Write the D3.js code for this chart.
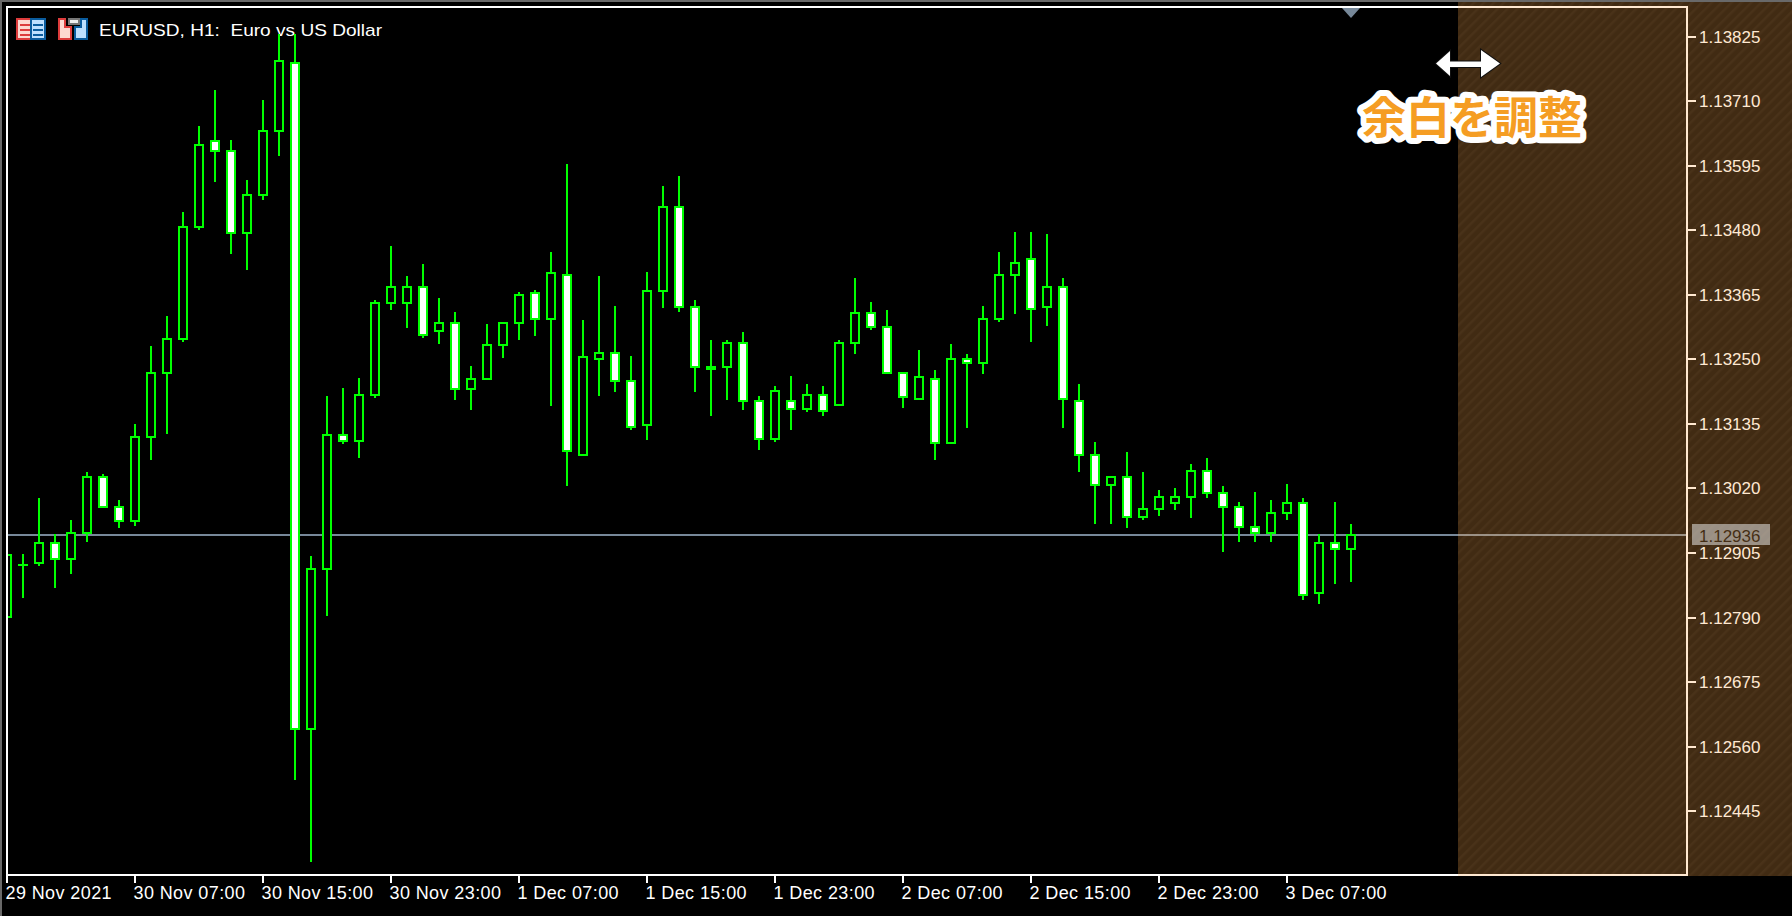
<!DOCTYPE html>
<html>
<head>
<meta charset="utf-8">
<style>
html,body{margin:0;padding:0;background:#000;overflow:hidden}
svg{display:block}
text{font-family:"Liberation Sans",sans-serif;font-size:17px;fill:#fff}
</style>
<script src="https://cdn.jsdelivr.net/npm/d3@7/dist/d3.min.js"></script>
</head>
<body>
<svg id="chart" width="1792" height="916"></svg>
<script>
const titleText = "EURUSD, H1:  Euro vs US Dollar";
const marginLabel = "余白を調整";
const bid = 1.12936;
const opens = [1.12789,1.12882,1.12885,1.12925,1.12893,1.12939,1.13042,1.12989,1.12960,1.13110,
1.13224,1.13285,1.13484,1.13641,1.13624,1.13474,1.13542,1.13656,1.13780,1.12589,
1.12875,1.13117,1.13103,1.13185,1.13349,1.13349,1.13381,1.13299,1.13317,1.13196,
1.13213,1.13274,1.13313,1.13370,1.13320,1.13402,1.13078,1.13249,1.13263,1.13213,
1.13131,1.13370,1.13524,1.13345,1.13238,1.13235,1.13281,1.13178,1.13106,1.13178,
1.13160,1.13188,1.13167,1.13278,1.13335,1.13310,1.13228,1.13178,1.13217,1.13099,
1.13253,1.13242,1.13320,1.13399,1.13431,1.13342,1.13381,1.13178,1.13082,1.13024,
1.13042,1.12967,1.12982,1.12992,1.13003,1.13053,1.13014,1.12989,1.12953,1.12939,
1.12975,1.12996,1.12832,1.12925,1.12910];
const highs = [1.12903,1.12903,1.13003,1.12939,1.12964,1.13049,1.13046,1.13000,1.13135,1.13274,
1.13328,1.13513,1.13666,1.13730,1.13641,1.13570,1.13713,1.13830,1.13830,1.12900,
1.13185,1.13199,1.13217,1.13356,1.13452,1.13399,1.13420,1.13360,1.13335,1.13238,
1.13313,1.13317,1.13370,1.13374,1.13442,1.13599,1.13320,1.13399,1.13345,1.13256,
1.13406,1.13559,1.13577,1.13356,1.13285,1.13285,1.13299,1.13185,1.13203,1.13221,
1.13206,1.13203,1.13285,1.13395,1.13353,1.13338,1.13228,1.13267,1.13231,1.13278,
1.13260,1.13345,1.13442,1.13477,1.13477,1.13474,1.13395,1.13206,1.13103,1.13042,
1.13085,1.13049,1.13017,1.13021,1.13064,1.13074,1.13024,1.12996,1.13014,1.13000,
1.13028,1.13003,1.12939,1.12996,1.12957];
const lows = [1.12789,1.12825,1.12882,1.12843,1.12868,1.12925,1.12985,1.12950,1.12953,1.13071,
1.13117,1.13281,1.13481,1.13566,1.13438,1.13410,1.13534,1.13613,1.12500,1.12354,
1.12793,1.13099,1.13074,1.13181,1.13338,1.13306,1.13288,1.13278,1.13178,1.13160,
1.13213,1.13253,1.13285,1.13292,1.13167,1.13024,1.13078,1.13185,1.13192,1.13124,
1.13106,1.13342,1.13335,1.13192,1.13149,1.13178,1.13160,1.13089,1.13103,1.13124,
1.13156,1.13149,1.13167,1.13260,1.13303,1.13224,1.13164,1.13178,1.13071,1.13099,
1.13128,1.13224,1.13317,1.13331,1.13281,1.13310,1.13128,1.13049,1.12957,1.12957,
1.12950,1.12964,1.12971,1.12982,1.12967,1.13003,1.12907,1.12925,1.12925,1.12925,
1.12964,1.12821,1.12814,1.12850,1.12853];
const closes = [1.12903,1.12885,1.12925,1.12893,1.12942,1.13042,1.12985,1.12960,1.13114,1.13228,
1.13288,1.13488,1.13634,1.13620,1.13474,1.13545,1.13659,1.13784,1.12589,1.12878,
1.13117,1.13103,1.13188,1.13353,1.13381,1.13381,1.13292,1.13317,1.13196,1.13217,
1.13278,1.13317,1.13367,1.13320,1.13406,1.13085,1.13256,1.13263,1.13210,1.13128,
1.13374,1.13524,1.13342,1.13235,1.13231,1.13281,1.13174,1.13106,1.13196,1.13160,
1.13188,1.13156,1.13281,1.13335,1.13306,1.13224,1.13181,1.13221,1.13099,1.13253,
1.13242,1.13324,1.13402,1.13424,1.13338,1.13381,1.13178,1.13078,1.13024,1.13042,
1.12967,1.12985,1.13007,1.13007,1.13053,1.13010,1.12985,1.12950,1.12939,1.12978,
1.12996,1.12828,1.12925,1.12910,1.12939];
const priceTicks = [1.13825,1.13710,1.13595,1.13480,1.13365,1.13250,1.13135,1.13020,1.12905,1.12790,1.12675,1.12560,1.12445];
const timeLabels = ["29 Nov 2021","30 Nov 07:00","30 Nov 15:00","30 Nov 23:00","1 Dec 07:00","1 Dec 15:00","1 Dec 23:00","2 Dec 07:00","2 Dec 15:00","2 Dec 23:00","3 Dec 07:00"];
const timeLabelBars = [0,8,16,24,32,40,48,56,64,72,80];

const GREEN = "#00ff00";
const svg = d3.select("#chart");
const x = d3.scaleLinear().domain([0,84]).range([7,1351]);
const y = d3.scaleLinear().domain([priceTicks[0],priceTicks[priceTicks.length-1]]).rangeRound([37,811]);

const defs = svg.append("defs");
defs.append("clipPath").attr("id","plot").append("rect").attr("x",8).attr("y",8).attr("width",1678).attr("height",866);
const pat = defs.append("pattern").attr("id","stripes").attr("patternUnits","userSpaceOnUse")
  .attr("width",7).attr("height",7).attr("patternTransform","rotate(45)");
pat.append("rect").attr("width",7).attr("height",7).attr("fill","rgba(255,167,76,0.255)");
pat.append("rect").attr("width",2.4).attr("height",7).attr("fill","rgba(255,215,170,0.045)");

// window chrome
svg.append("rect").attr("width",1792).attr("height",2).attr("fill","#696969");
svg.append("rect").attr("width",2).attr("height",916).attr("fill","#696969");

// title
svg.append("text").attr("x",99).attr("y",36).attr("textLength",283).attr("lengthAdjust","spacingAndGlyphs").style("white-space","pre").text(titleText);

// toolbar icons
const ic = svg.append("g");
ic.append("rect").attr("x",17).attr("y",19).attr("width",14).attr("height",20).attr("fill","#fdd8d0").attr("stroke","#dd3c3c").attr("stroke-width",2);
ic.append("rect").attr("x",31).attr("y",19).attr("width",14).attr("height",20).attr("fill","#bde0ff").attr("stroke","#0a5c9e").attr("stroke-width",2);
[24,29,34].forEach(v=>{
  ic.append("rect").attr("x",20).attr("y",v).attr("width",10).attr("height",2).attr("fill","#dd3c3c");
  ic.append("rect").attr("x",33).attr("y",v).attr("width",10).attr("height",2).attr("fill","#0a5c9e");
});
ic.append("path").attr("d","M59 19H65V27H71V39H59Z").attr("fill","#fdd8d0").attr("stroke","#dd3c3c").attr("stroke-width",2);
ic.append("path").attr("d","M87 19H81V27H75V39H87Z").attr("fill","#bde0ff").attr("stroke","#0a5c9e").attr("stroke-width",2);
ic.append("rect").attr("x",69).attr("y",19).attr("width",10).attr("height",5).attr("fill","#eee").attr("stroke","#777").attr("stroke-width",2);

// candles
const bars = d3.range(opens.length).map(i=>({i,o:opens[i],h:highs[i],l:lows[i],c:closes[i]}));
const plot = svg.append("g").attr("clip-path","url(#plot)");
plot.append("rect").attr("x",8).attr("width",1678).attr("y",y(bid)-2).attr("height",2).attr("fill","#778899");
const candle = plot.selectAll("g.c").data(bars).join("g").attr("class","c");
candle.append("rect").attr("x",d=>x(d.i)-1).attr("width",2)
  .attr("y",d=>y(d.h)).attr("height",d=>Math.max(0,y(d.l)-y(d.h))).attr("fill",GREEN);
candle.append("rect").attr("x",d=>x(d.i)-5).attr("width",10)
  .attr("y",d=>y(Math.max(d.o,d.c))).attr("height",d=>Math.max(2,y(Math.min(d.o,d.c))-y(Math.max(d.o,d.c)))).attr("fill",GREEN);
candle.append("rect").attr("x",d=>x(d.i)-3).attr("width",6)
  .attr("y",d=>y(Math.max(d.o,d.c))+2).attr("height",d=>Math.max(0,y(Math.min(d.o,d.c))-y(Math.max(d.o,d.c))-4))
  .attr("fill",d=>d.c<d.o?"#fff":"#000");

// frame
svg.append("rect").attr("x",6).attr("y",6).attr("width",1682).attr("height",2).attr("fill","#fff");
svg.append("rect").attr("x",6).attr("y",874).attr("width",1682).attr("height",2).attr("fill","#fff");
svg.append("rect").attr("x",6).attr("y",6).attr("width",2).attr("height",870).attr("fill","#fff");
svg.append("rect").attr("x",1686).attr("y",6).attr("width",2).attr("height",870).attr("fill","#fff");

// axes
const yAxis = d3.axisRight(y).tickValues(priceTicks).tickFormat(d3.format(".5f")).tickSize(8).tickPadding(3).offset(0);
const ya = svg.append("g").attr("transform","translate(1688,0)").call(yAxis);
ya.select(".domain").remove();
ya.selectAll("line").attr("stroke","#fff").attr("stroke-width",2);
ya.selectAll("text").attr("fill","#fff").attr("dy",null).attr("y",5.5).style("font-family",'"Liberation Sans"').style("font-size","17px");

const labelOf = new Map(timeLabelBars.map((b,k)=>[b,timeLabels[k]]));
const xAxis = d3.axisBottom(x).tickValues(timeLabelBars).tickFormat(b=>labelOf.get(b)).tickSize(8).offset(0);
const xa = svg.append("g").attr("transform","translate(0,875)").call(xAxis);
xa.select(".domain").remove();
xa.selectAll("line").attr("stroke","#fff").attr("stroke-width",2);
xa.selectAll("text").attr("fill","#fff").attr("dy",null).attr("y",24).attr("x",-1.5).attr("text-anchor","start")
  .style("font-family",'"Liberation Sans"').style("font-size","18px").style("letter-spacing","0.4px");

// current price label and chart shift marker
svg.append("rect").attr("x",1692).attr("width",78).attr("y",y(bid)-12).attr("height",21).attr("fill","#778899");
svg.append("text").attr("x",1699).attr("y",y(bid)+5.5).style("fill","#000").text(d3.format(".5f")(bid));
svg.append("path").attr("transform",`translate(${x(84)},8)`).attr("d","M-9 0H9L0 10Z").attr("fill","#778899");

// margin overlay
svg.append("rect").attr("x",1458).attr("y",2).attr("width",334).attr("height",874).attr("fill","url(#stripes)");

// annotation
svg.append("path").attr("d","M1436 63.5L1450 51V61.5H1481V50L1500 63.5L1481 77V67H1450V76Z")
  .attr("fill","#fff").attr("stroke","#111").attr("stroke-width",2).attr("paint-order","stroke");
svg.append("text").attr("x",1362).attr("y",134).text(marginLabel)
  .style("font-family",'"Noto Sans CJK JP"').style("font-size","44px").style("font-weight",700)
  .style("fill","#f59d23").style("stroke","#fff").style("stroke-width",12).style("stroke-linejoin","round").style("paint-order","stroke");
</script>
</body>
</html>
